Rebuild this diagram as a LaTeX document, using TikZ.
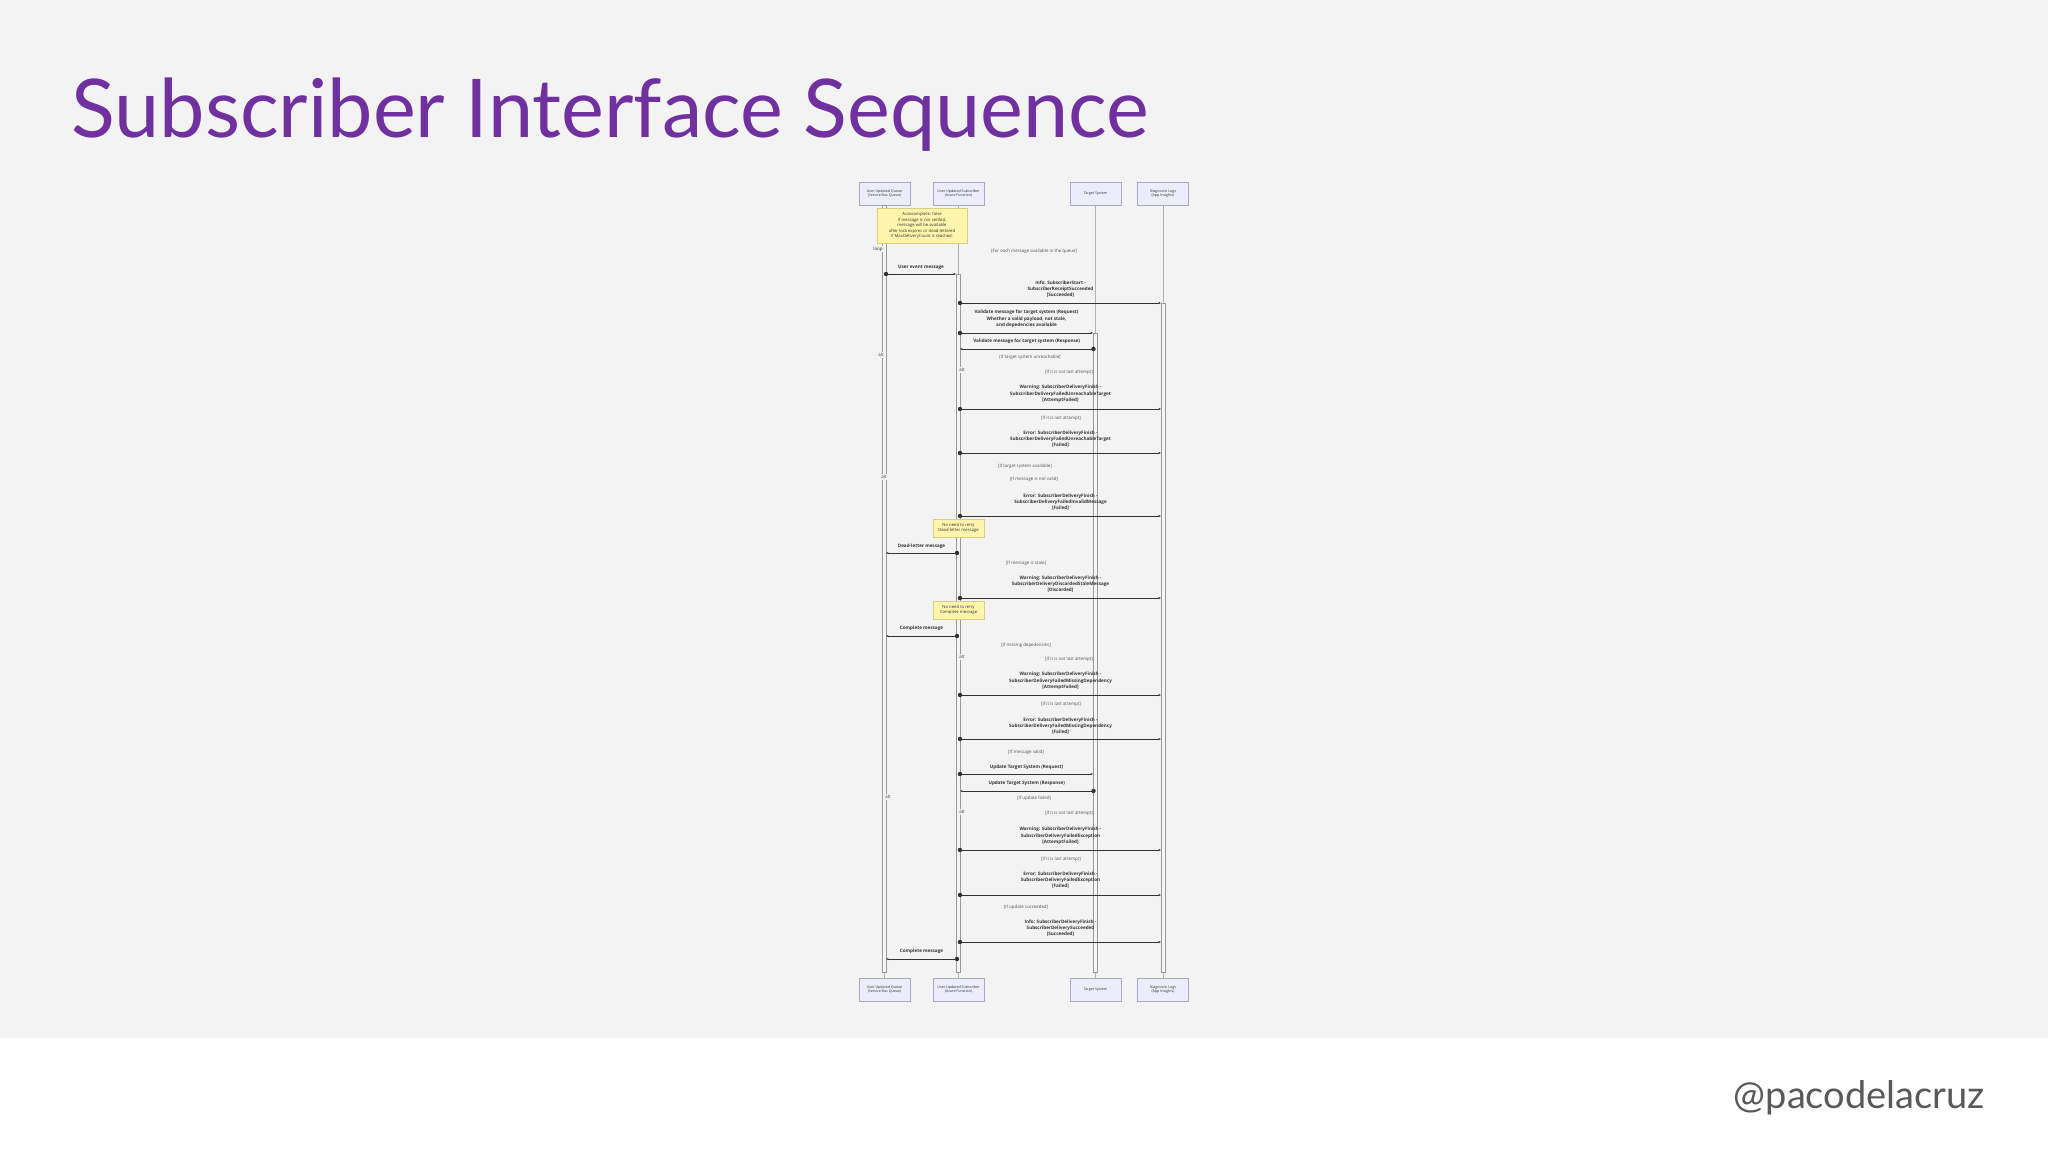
\documentclass[tikz,border=0pt]{standalone}
\usepackage{fontspec}
\setmainfont{Open Sans}
\newfontfamily\titlefont{Lato}
\usetikzlibrary{arrows.meta}
\definecolor{bg}{HTML}{F3F3F3}
\definecolor{titlec}{HTML}{7030A0}
\definecolor{actfill}{HTML}{ECECFA}
\definecolor{actdraw}{HTML}{A8A8C8}
\definecolor{notefill}{HTML}{FFF5AD}
\definecolor{notedraw}{HTML}{D8D080}
\definecolor{txt}{HTML}{333333}
\newcommand\msg[6]{%
  \draw[msgline,#4] (#2,#1) -- (#3,#1);
  \fill[txt] (#2,#1) circle (2.2);
  \node[mlabel] at ({(#2+#3)/2},#6) {#5};
}
\begin{document}
\begin{tikzpicture}[x=1pt,y=-1pt,
  actorbox/.style={draw=actdraw,fill=actfill,line width=0.5pt,minimum width=51pt,minimum height=23pt,inner sep=0pt,align=center,font=\fontsize{3.6}{4}\selectfont,text=txt},
  lifeln/.style={draw=black!30,line width=0.5pt},
  actbar/.style={draw=black!40,fill=black!4,line width=0.4pt},
  msgline/.style={draw=txt,line width=0.5pt,-{Stealth[length=2.5pt,width=2pt]}},
  respline/.style={dash pattern=on 1.2pt off 0.8pt,line width=0.4pt},
  mlabel/.style={font=\fontsize{4.6}{6.3}\selectfont\bfseries,text=txt,align=center,inner sep=0pt},
  cond/.style={font=\fontsize{4.4}{6}\selectfont,text=txt!85,inner sep=0pt},
  altlab/.style={font=\fontsize{4.4}{6}\selectfont,text=txt,fill=black!5,inner sep=1pt},
  notebox/.style={draw=notedraw,fill=notefill,line width=0.5pt,align=center,font=\fontsize{4.2}{5.6}\selectfont,text=txt,inner sep=1pt}]
\useasboundingbox (0,0) rectangle (2048,1152);
\fill[white] (0,0) rectangle (2048,1152);
\fill[bg] (0,0) rectangle (2048,1038);
\node[anchor=base west,font=\titlefont\fontsize{81}{86}\selectfont,text=titlec,inner sep=0pt] (title) at (71,137) {Subscriber Interface Sequence};
\node[anchor=base east,font=\titlefont\fontsize{38}{42}\selectfont,text=black!65,inner sep=0pt] (handle) at (1985,1108) {@pacodelacruz};
% actors
\node[actorbox] (qt) at (884.5,193.5) {User Updated Queue\\(Service Bus Queue)};
\node[actorbox] (st) at (958.5,193.5) {User Updated Subscriber\\(Azure Function)};
\node[actorbox] (tt) at (1095.5,193.5) {Target System};
\node[actorbox] (dt) at (1163,193.5) {Diagnostic Logs\\(App Insights)};
\node[actorbox] (qb) at (884.5,989.7) {User Updated Queue\\(Service Bus Queue)};
\node[actorbox] (sb) at (958.5,989.7) {User Updated Subscriber\\(Azure Function)};
\node[actorbox] (tb) at (1095.5,989.7) {Target System};
\node[actorbox] (db) at (1163,989.7) {Diagnostic Logs\\(App Insights)};
\draw[lifeln] (qt) -- (qb);
\draw[lifeln] (st) -- (sb);
\draw[lifeln] (tt) -- (tb);
\draw[lifeln] (dt) -- (db);
% activations
\draw[actbar] (882,205) rectangle (886,972);
\draw[actbar] (956,274) rectangle (960,972);
\draw[actbar] (1093.5,333) rectangle (1097.5,972);
\draw[actbar] (1161,303) rectangle (1165,972);
% note
\node[notebox,minimum width=90pt,minimum height=35pt] (n1) at (922,225.5) {Autocomplete: false\\If message is not settled,\\message will be available\\after lock expires or dead-lettered\\if MaxDeliveryCount is reached.};
\node[altlab] (loop) at (878,249) {loop};
\node[cond] at (1034,251) {[For each message available in the queue]};
% messages
\msg{274}{886}{956}{}{User event message}{267}
\msg{303}{960}{1161}{}{Info: SubscriberStart -\\SubscriberReceiptSucceeded\\{[Succeeded]}}{289}
\msg{333}{960}{1093}{}{Validate message for target system (Request)\\Whether a valid payload, not stale,\\and depedencies available}{319}
\msg{349}{1093.5}{960}{respline}{Validate message for target system (Response)}{341}
\node[altlab] at (881,355) {alt};
\node[cond] at (1030,357) {[If target system unreachable]};
\node[altlab] at (962,370) {alt};
\node[cond] at (1069,372) {[If it is not last attempt]};
\msg{409}{960}{1161}{}{Warning: SubscriberDeliveryFinish -\\SubscriberDeliveryFailedUnreachableTarget\\{[AttemptFailed]}}{394}
\node[cond] at (1061,418) {[If it is last attempt]};
\msg{453}{960}{1161}{}{Error: SubscriberDeliveryFinish -\\SubscriberDeliveryFailedUnreachableTarget\\{[Failed]}}{439}
\node[cond] at (1025,466) {[If target system available]};
\node[altlab] at (884,477) {alt};
\node[cond] at (1034,479) {[If message is not valid]};
\msg{516}{960}{1161}{}{Error: SubscriberDeliveryFinish -\\SubscriberDeliveryFailedInvalidMessage\\{[Failed]}}{502}
\node[notebox,minimum width=51pt,minimum height=18pt] (n2) at (958.5,528) {No need to retry\\Dead-letter message};
\msg{553}{957}{886}{}{Dead-letter message}{546}
\node[cond] at (1026,563) {[If message is stale]};
\msg{598}{960}{1161}{}{Warning: SubscriberDeliveryFinish -\\SubscriberDeliveryDiscardedStaleMessage\\{[Discarded]}}{584}
\node[notebox,minimum width=51pt,minimum height=18pt] (n3) at (958.5,610) {No need to retry\\Complete message};
\msg{636}{957}{886}{}{Complete message}{628}
\node[cond] at (1026,645) {[If missing depedencies]};
\node[altlab] at (962,657) {alt};
\node[cond] at (1069,659) {[If it is not last attempt]};
\msg{695}{960}{1161}{}{Warning: SubscriberDeliveryFinish -\\SubscriberDeliveryFailedMissingDependency\\{[AttemptFailed]}}{681}
\node[cond] at (1061,704) {[If it is last attempt]};
\msg{739}{960}{1161}{}{Error: SubscriberDeliveryFinish -\\SubscriberDeliveryFailedMissingDependency\\{[Failed]}}{726}
\node[cond] at (1026,752) {[If message valid]};
\msg{774}{960}{1093}{}{Update Target System (Request)}{767}
\msg{791}{1093.5}{960}{respline}{Update Target System (Response)}{783}
\node[altlab] at (888,797) {alt};
\node[cond] at (1034,798) {[If update failed]};
\node[altlab] at (962,812) {alt};
\node[cond] at (1069,813) {[If it is not last attempt]};
\msg{850}{960}{1161}{}{Warning: SubscriberDeliveryFinish -\\SubscriberDeliveryFailedException\\{[AttemptFailed]}}{836}
\node[cond] at (1061,859) {[If it is last attempt]};
\msg{895}{960}{1161}{}{Error: SubscriberDeliveryFinish -\\SubscriberDeliveryFailedException\\{[Failed]}}{880}
\node[cond] at (1026,907) {[If update succeeded]};
\msg{942}{960}{1161}{}{Info: SubscriberDeliveryFinish -\\SubscriberDeliverySucceeded\\{[Succeeded]}}{928}
\msg{959}{957}{886}{}{Complete message}{951}
\end{tikzpicture}
\end{document}
